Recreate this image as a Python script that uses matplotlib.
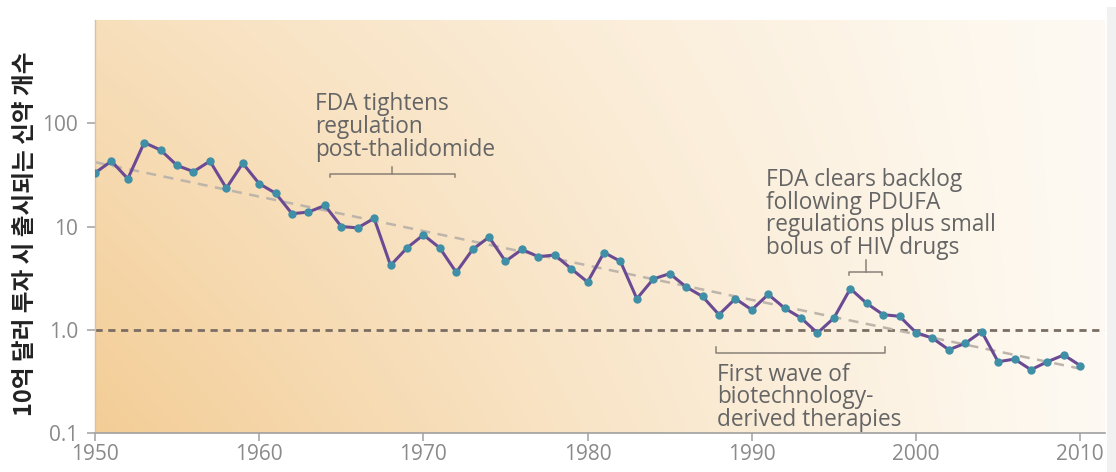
import numpy as np
import matplotlib.pyplot as plt
from matplotlib.ticker import FixedLocator, FixedFormatter, NullLocator
from matplotlib.patches import Rectangle

# new drugs approved per billion US$ of R&D spending (log scale)
years = list(range(1950, 2011))
drugs_per_billion = [
    33, 43, 29, 65, 55, 39, 34, 43, 23.5, 41,
    26, 21, 13.3, 13.8, 16, 10, 9.7, 12, 4.2, 6.2,
    8.3, 6.2, 3.6, 6.0, 7.9, 4.6, 6.0, 5.1, 5.3, 3.9,
    2.9, 5.6, 4.6, 2.0, 3.1, 3.5, 2.6, 2.1, 1.4, 2.0,
    1.56, 2.2, 1.62, 1.3, 0.93, 1.3, 2.5, 1.8, 1.4, 1.35,
    0.94, 0.83, 0.64, 0.74, 0.96, 0.49, 0.52, 0.41, 0.49, 0.57,
    0.45,
]

# fitted exponential trend (end points)
trend_years = [1950, 2010]
trend_values = [42, 0.42]

x_ticks = [1950, 1960, 1970, 1980, 1990, 2000, 2010]
y_ticks = [0.1, 1, 10, 100]
y_tick_labels = ['0.1', '1.0', '10', '100']

ylabel = '10억 달러 투자 시 출시되는 신약 개수'

notes = [
    'FDA tightens\nregulation\npost-thalidomide',
    'FDA clears backlog\nfollowing PDUFA\nregulations plus small\nbolus of HIV drugs',
    'First wave of\nbiotechnology-\nderived therapies',
]
note_spans = [(1964.3, 1971.9), (1995.95, 1997.9), (1987.85, 1998.1)]

plt.rcParams['font.family'] = ['Open Sans', 'DejaVu Sans']

fig = plt.figure(figsize=(11.16, 4.72), dpi=100)
fig.patch.set_facecolor('white')
ax = fig.add_axes([0.0851, 0.0826, 0.9049, 0.875])

# light strip at the far right edge
fig.add_artist(Rectangle((0.992, 0.0), 0.008, 0.985, transform=fig.transFigure,
                         facecolor='#f1f1f1', edgecolor='none', zorder=0))

# peach background fading to white towards the right and the top
nx, ny = 300, 120
u = np.linspace(0, 1, nx)[None, :]
v = np.linspace(1, 0, ny)[:, None]
w = (1 - u) ** 1.1 * (0.6 + 0.4 * (1 - v))
orange = np.array([243, 205, 150]) / 255
pale = np.array([254, 250, 243]) / 255
img = pale[None, None, :] * (1 - w[..., None]) + orange[None, None, :] * w[..., None]
ax.imshow(img, extent=[0, 1, 0, 1], transform=ax.transAxes, origin='upper',
          aspect='auto', zorder=0, interpolation='bilinear')

ax.set_yscale('log')
ax.set_xlim(1950, 2011.5)
ax.set_ylim(0.1, 1000)

# reference line at 1.0
ax.axhline(1.0, color='#7a6e64', lw=2.0, ls=(0, (2.6, 2.0)), zorder=2)

# trend line
ax.plot(trend_years, trend_values, color='#bdb4aa', lw=1.8, ls=(0, (4, 3)), zorder=2)

# series
ax.plot(years, drugs_per_billion, color='#6b4a94', lw=2.2, zorder=3,
        marker='o', markersize=5, markerfacecolor='#3f8fa6', markeredgecolor='#3f8fa6')

# annotations
text_color = '#656565'
bracket_color = '#8a8078'
note_style = dict(color=text_color, fontsize=16.3, va='top', ha='left',
                  linespacing=0.93, zorder=4)
ax.text(1963.4, 200, notes[0], **note_style)
ax.text(1990.84, 37, notes[1], **note_style)
ax.text(1987.9, 0.48, notes[2], **note_style)

# bracket over thalidomide period
x0, x1 = note_spans[0]
ax.plot([x0, x0, x1, x1], [30.3, 32.4, 32.4, 30.3], color=bracket_color, lw=1.1, zorder=4)
ax.plot([(x0 + x1) / 2] * 2, [32.4, 37.8], color=bracket_color, lw=1.1, zorder=4)

# bracket for PDUFA backlog
x0, x1 = note_spans[1]
ax.plot([x0, x0, x1, x1], [3.4, 3.64, 3.64, 3.4], color=bracket_color, lw=1.1, zorder=4)
ax.plot([(x0 + x1) / 2] * 2, [3.64, 4.76], color=bracket_color, lw=1.1, zorder=4)

# bracket for biotech wave
x0, x1 = note_spans[2]
ax.plot([x0, x0, x1, x1], [0.685, 0.60, 0.60, 0.685], color=bracket_color, lw=1.1, zorder=4)

# axes styling
ax.yaxis.set_major_locator(FixedLocator(y_ticks))
ax.yaxis.set_major_formatter(FixedFormatter(y_tick_labels))
ax.yaxis.set_minor_locator(NullLocator())
ax.set_xticks(x_ticks)
ax.tick_params(axis='both', colors='#a8a8a8', labelcolor='#8a8a8a', labelsize=15,
               length=6, width=1.2, direction='out')
ax.tick_params(axis='y', pad=6)
ax.tick_params(axis='x', pad=2)
for side in ['top', 'right']:
    ax.spines[side].set_visible(False)
ax.spines['bottom'].set_color('#a0a0a0')
ax.spines['bottom'].set_linewidth(1.2)
ax.spines['left'].set_color('#d8c2a0')
ax.spines['left'].set_linewidth(1.0)

ax.set_ylabel(ylabel, fontsize=17, fontweight='bold', color='#222222',
              family=['Noto Sans CJK KR', 'DejaVu Sans'])
ax.yaxis.set_label_coords(-0.0574, 0.482)

fig.savefig('out.png', dpi=100)
